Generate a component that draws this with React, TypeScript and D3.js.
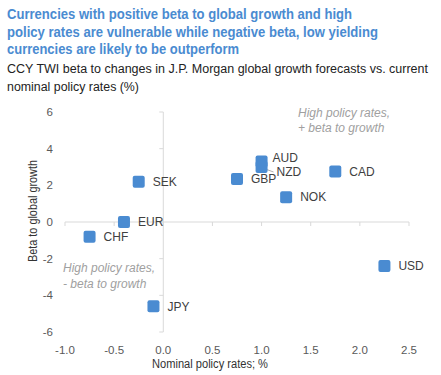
import React from "react";
import * as d3 from "d3";

const currencies = ["SEK", "EUR", "CHF", "AUD", "NZD", "GBP", "CAD", "NOK", "USD", "JPY"];
const policyRates = [-0.25, -0.4, -0.75, 1.0, 1.0, 0.75, 1.75, 1.25, 2.25, -0.1];
const betaToGrowth = [2.2, 0.0, -0.8, 3.3, 3.0, 2.35, 2.75, 1.35, -2.4, -4.6];
const xTicks = [-1.0, -0.5, 0.0, 0.5, 1.0, 1.5, 2.0, 2.5];
const yTicks = [-6, -4, -2, 0, 2, 4, 6];
const titleLines = [
  "Currencies with positive beta to global growth and high",
  "policy rates are vulnerable while negative beta, low yielding",
  "currencies are likely to be outperform",
];
const subtitleLines = [
  "CCY TWI beta to changes in J.P. Morgan global growth forecasts vs. current",
  "nominal policy rates (%)",
];

const W = 441;
const H = 375;
const FONT = "'Liberation Sans', Arial, sans-serif";
const BLUE = "#4a8bd1";

// label offsets (layout only)
const labelDx: Record<string, number> = { AUD: 11, NZD: 15 };
const labelDy: Record<string, number> = { AUD: -4, NZD: 5 };

export default function App() {
  const x = d3.scaleLinear().domain([-1, 2.5]).range([65, 409]);
  const y = d3.scaleLinear().domain([-6, 6]).range([332, 112]);
  const x0 = x(0);
  const y0 = y(0);
  const titleWidths = [345, 371, 232];
  const subWidths = [421, 132];
  const pts = currencies.map((c, i) => ({ c, px: x(policyRates[i]), py: y(betaToGrowth[i]) }));
  return (
    <svg width={W} height={H} style={{ position: "absolute", left: 0, top: 0, background: "#fff" }} fontFamily={FONT}>
      {titleLines.map((t, i) => (
        <text key={t} x={7} y={19 + i * 17.5} fontSize={15} fontWeight="bold" fill={BLUE}
          textLength={titleWidths[i]} lengthAdjust="spacingAndGlyphs">{t}</text>
      ))}
      {subtitleLines.map((t, i) => (
        <text key={t} x={7} y={73 + i * 18} fontSize={12.5} fill="#222"
          textLength={subWidths[i]} lengthAdjust="spacingAndGlyphs">{t}</text>
      ))}
      {/* axes */}
      <line x1={x(-1)} x2={x(2.5)} y1={y0} y2={y0} stroke="#d9d9d9" />
      <line x1={x0} x2={x0} y1={y(6)} y2={y(-6)} stroke="#d9d9d9" />
      {xTicks.map((v) => (
        <g key={v}>
          <line x1={x(v)} x2={x(v)} y1={y0} y2={y0 + 4} stroke="#d9d9d9" />
          <text x={x(v)} y={354} fontSize={11.5} fill="#595959" textAnchor="middle">{d3.format(".1f")(v).replace("−", "-")}</text>
        </g>
      ))}
      {yTicks.map((v) => (
        <g key={v}>
          <line x1={x0 - 4} x2={x0} y1={y(v)} y2={y(v)} stroke="#d9d9d9" />
          <text x={53} y={y(v)} dy="0.35em" fontSize={11.5} fill="#595959" textAnchor="end">{String(v)}</text>
        </g>
      ))}
      <text x={210} y={368} fontSize={12} fill="#333" textAnchor="middle" textLength={116} lengthAdjust="spacingAndGlyphs">Nominal policy rates; %</text>
      <text transform={`translate(37,211) rotate(-90)`} fontSize={12} fill="#333" textAnchor="middle" textLength={102} lengthAdjust="spacingAndGlyphs">Beta to global growth</text>
      {/* annotations */}
      <text x={298} y={117} fontSize={12} fontStyle="italic" fill="#a0a0a0">High policy rates,</text>
      <text x={298} y={132} fontSize={12} fontStyle="italic" fill="#a0a0a0">+ beta to growth</text>
      <text x={63} y={272} fontSize={12} fontStyle="italic" fill="#a0a0a0">High policy rates,</text>
      <text x={63} y={288} fontSize={12} fontStyle="italic" fill="#a0a0a0">- beta to growth</text>
      {/* NZD leader */}
      {(() => {
        const n = pts.find((p) => p.c === "NZD")!;
        return <line x1={n.px + 1} y1={n.py + 1} x2={n.px + 12} y2={n.py + 5} stroke="#999" strokeWidth={0.8} />;
      })()}
      {pts.map((p) => (
        <rect key={p.c} x={p.px - 6} y={p.py - 6} width={12} height={12} rx={2} fill={BLUE} />
      ))}
      {pts.map((p) => (
        <text key={p.c} x={p.px + (labelDx[p.c] ?? 14)} y={p.py + (labelDy[p.c] ?? 0)} dy="0.35em" fontSize={12} fill="#404040">{p.c}</text>
      ))}
    </svg>
  );
}
